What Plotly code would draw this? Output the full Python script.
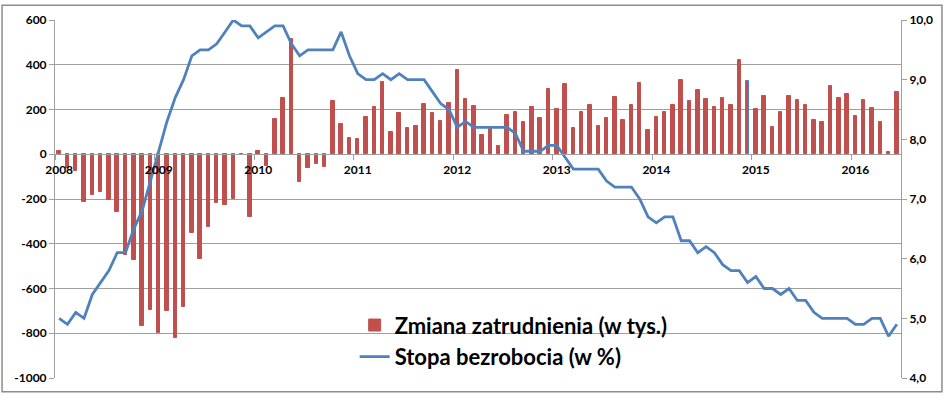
import plotly.graph_objects as go

# ---- data (monthly, Jan 2008 - Jun 2016) ----
years = ["2008", "2009", "2010", "2011", "2012", "2013", "2014", "2015", "2016"]

employment_change = [
    # 2008
    15, -62, -77, -212, -181, -170, -206, -256, -451, -471, -767, -694,
    # 2009
    -800, -701, -823, -683, -353, -468, -324, -217, -225, -199, -5, -280,
    # 2010
    15, -51, 156, 252, 517, -123, -62, -43, -58, 240, 136, 73,
    # 2011
    68, 168, 212, 324, 101, 184, 117, 128, 224, 184, 149, 229,
    # 2012
    378, 246, 214, 87, 114, 36, 175, 187, 143, 211, 164, 290,
    # 2013
    202, 315, 117, 187, 218, 128, 164, 255, 152, 222, 319, 108,
    # 2014
    168, 187, 222, 331, 236, 287, 247, 212, 250, 219, 422, 329,
    # 2015
    202, 262, 120, 187, 259, 244, 222, 152, 143, 306, 252, 271,
    # 2016
    172, 243, 208, 143, 11, 278,
]

unemployment_rate = [
    # 2008
    5.0, 4.9, 5.1, 5.0, 5.4, 5.6, 5.8, 6.1, 6.1, 6.5, 6.8, 7.3,
    # 2009
    7.8, 8.3, 8.7, 9.0, 9.4, 9.5, 9.5, 9.6, 9.8, 10.0, 9.9, 9.9,
    # 2010
    9.7, 9.8, 9.9, 9.9, 9.6, 9.4, 9.5, 9.5, 9.5, 9.5, 9.8, 9.4,
    # 2011
    9.1, 9.0, 9.0, 9.1, 9.0, 9.1, 9.0, 9.0, 9.0, 8.8, 8.6, 8.5,
    # 2012
    8.2, 8.3, 8.2, 8.2, 8.2, 8.2, 8.2, 8.1, 7.8, 7.8, 7.8, 7.9,
    # 2013
    7.9, 7.7, 7.5, 7.5, 7.5, 7.5, 7.3, 7.2, 7.2, 7.2, 7.0, 6.7,
    # 2014
    6.6, 6.7, 6.7, 6.3, 6.3, 6.1, 6.2, 6.1, 5.9, 5.8, 5.8, 5.6,
    # 2015
    5.7, 5.5, 5.5, 5.4, 5.5, 5.3, 5.3, 5.1, 5.0, 5.0, 5.0, 5.0,
    # 2016
    4.9, 4.9, 5.0, 5.0, 4.7, 4.9,
]

left_ticks = [-1000, -800, -600, -400, -200, 0, 200, 400, 600]
left_tick_labels = ["-1000", "-800", "-600", "-400", "-200", "0", "200", "400", "600"]
right_ticks = [4, 5, 6, 7, 8, 9, 10]
right_tick_labels = ["4,0", "5,0", "6,0", "7,0", "8,0", "9,0", "10,0"]

highlighted_month = 83  # Dec 2014 bar shown with a blue outline (selected)

# ---- styling ----
RED = "#C0504D"
BLUE = "#4F81BD"
GRID = "#A0A0A0"
FONT = "Lato"

n = len(employment_change)
xpos = [i + 0.5 for i in range(n)]
year_pos = [12 * k + 0.5 for k in range(len(years))]

bar_line_colors = [BLUE if i == highlighted_month else RED for i in range(n)]

fig = go.Figure()
fig.add_trace(go.Bar(
    x=xpos, y=employment_change, width=0.42,
    name="Zmiana zatrudnienia (w tys.)",
    marker=dict(color=RED, line=dict(color=bar_line_colors, width=1)),
))
fig.add_trace(go.Scatter(
    x=xpos, y=unemployment_rate, yaxis="y2", mode="lines",
    name="Stopa bezrobocia (w %)",
    line=dict(color=BLUE, width=2.8),
))

L, R, T, B = 55, 43, 16, 17
W, H = 945, 397
pw, ph = W - L - R, H - T - B
ymin, ymax = left_ticks[0], left_ticks[-1]
zero_frac = (0 - ymin) / (ymax - ymin)

def px_x(p):
    return (p - L) / pw

def px_y(p):
    return (H - B - p) / ph

fig.update_layout(
    width=W, height=H, autosize=False,
    margin=dict(l=L, r=R, t=T, b=B),
    paper_bgcolor="white", plot_bgcolor="white",
    font=dict(family=FONT, size=12, color="black"),
    bargap=0,
    xaxis=dict(
        range=[0, n], anchor="free", position=zero_frac,
        showline=True, linecolor=GRID, linewidth=1,
        tickmode="array", tickvals=year_pos, ticktext=years, ticks="",
        ticklabelstandoff=4,
        tickfont=dict(family=FONT, size=12, color="black", weight="bold"),
        showgrid=False, zeroline=False,
        minor=dict(ticks="outside", tickmode="linear", tick0=0, dtick=12,
                   ticklen=5, tickcolor=GRID, showgrid=False),
    ),
    yaxis=dict(
        range=[ymin, ymax], tickmode="array", tickvals=left_ticks, ticktext=left_tick_labels,
        showgrid=True, gridcolor=GRID, gridwidth=1,
        showline=True, linecolor=GRID, linewidth=1,
        ticks="outside", ticklen=5, tickcolor=GRID,
        tickfont=dict(family=FONT, size=12, color="black", weight="bold"),
        zeroline=False,
    ),
    yaxis2=dict(
        range=[right_ticks[0], right_ticks[-1]], overlaying="y", side="right",
        tickmode="array", tickvals=right_ticks, ticktext=right_tick_labels,
        showgrid=False, showline=True, linecolor=GRID, linewidth=1,
        ticks="outside", ticklen=5, tickcolor=GRID,
        tickfont=dict(family=FONT, size=12, color="black", weight="bold"),
        zeroline=False,
    ),
    legend=dict(
        x=px_x(355), y=px_y(305), xanchor="left", yanchor="top",
        bgcolor="rgba(0,0,0,0)",
        font=dict(family=FONT, size=22, color="black", weight="bold"),
    ),
    showlegend=True,
    shapes=[dict(
        type="rect", xref="paper", yref="paper", layer="below",
        x0=px_x(2), x1=px_x(943), y0=px_y(394), y1=px_y(1),
        line=dict(color="#8C8C8C", width=1.5),
    )],
)

fig.write_html("out.html", config={"displayModeBar": False},
               post_script="document.body.style.margin='0';")
